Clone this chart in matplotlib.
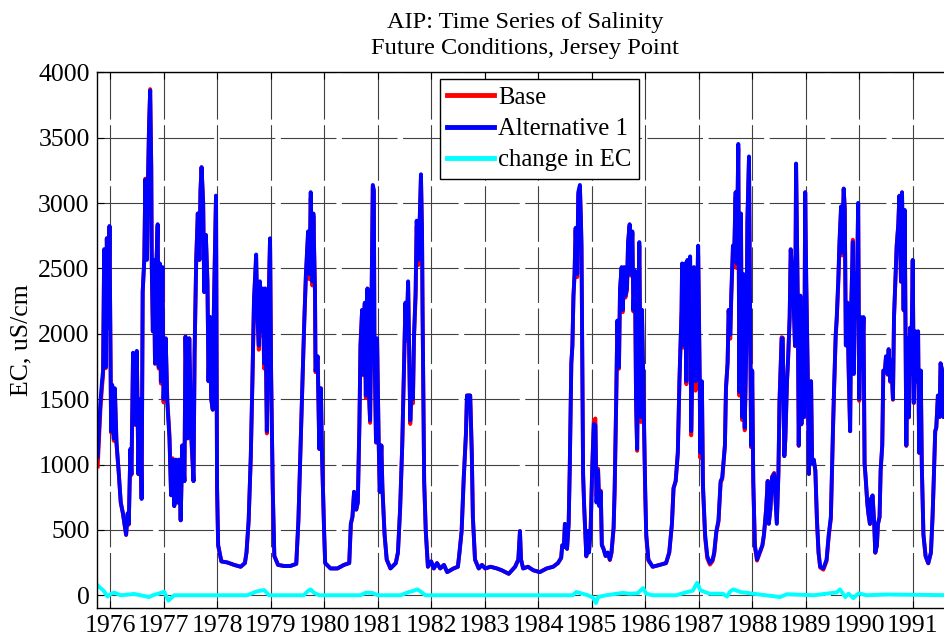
import numpy as np
import matplotlib
matplotlib.use('Agg')
import matplotlib.pyplot as plt

# Jersey Point EC (decimal water-year dates)
alt_year = [
    1975.77, 1975.82, 1975.85, 1975.87, 1975.89, 1975.92, 1975.94, 1975.97, 1975.99, 1976.02,
    1976.04, 1976.07, 1976.09, 1976.12, 1976.16, 1976.20, 1976.24, 1976.27, 1976.30, 1976.33,
    1976.35, 1976.38, 1976.40, 1976.43, 1976.47, 1976.50, 1976.53, 1976.56, 1976.59, 1976.61,
    1976.64, 1976.66, 1976.69, 1976.71, 1976.73, 1976.75, 1976.77, 1976.78, 1976.80, 1976.82,
    1976.84, 1976.86, 1976.89, 1976.91, 1976.93, 1976.95, 1976.98, 1977.00, 1977.04, 1977.07,
    1977.11, 1977.14, 1977.17, 1977.20, 1977.23, 1977.26, 1977.29, 1977.32, 1977.35, 1977.39,
    1977.41, 1977.45, 1977.48, 1977.52, 1977.56, 1977.58, 1977.61, 1977.64, 1977.67, 1977.69,
    1977.71, 1977.74, 1977.76, 1977.79, 1977.82, 1977.84, 1977.87, 1977.89, 1977.92, 1977.94,
    1977.98, 1978.00, 1978.02, 1978.08, 1978.19, 1978.32, 1978.44, 1978.52, 1978.55, 1978.59,
    1978.63, 1978.66, 1978.69, 1978.73, 1978.75, 1978.78, 1978.80, 1978.83, 1978.85, 1978.88,
    1978.90, 1978.93, 1978.96, 1978.99, 1979.01, 1979.04, 1979.07, 1979.14, 1979.25, 1979.37,
    1979.48, 1979.52, 1979.56, 1979.60,
    1979.63, 1979.66, 1979.70, 1979.73, 1979.75, 1979.78, 1979.80, 1979.83, 1979.84, 1979.88,
    1979.91, 1979.94, 1979.96, 1980.00, 1980.02, 1980.12, 1980.25, 1980.37, 1980.47, 1980.50,
    1980.53, 1980.56, 1980.60, 1980.63, 1980.66, 1980.68, 1980.71, 1980.73, 1980.76, 1980.78,
    1980.81, 1980.83, 1980.86, 1980.88, 1980.91, 1980.93, 1980.94, 1980.97, 1980.99, 1981.02,
    1981.04, 1981.07, 1981.09, 1981.13, 1981.17, 1981.24, 1981.34, 1981.38, 1981.42, 1981.46,
    1981.49, 1981.52, 1981.54, 1981.57, 1981.59, 1981.61, 1981.64, 1981.66, 1981.68, 1981.71,
    1981.73, 1981.76, 1981.78, 1981.81, 1981.83, 1981.84, 1981.87, 1981.90, 1981.94, 1982.00,
    1982.05, 1982.11, 1982.17, 1982.24, 1982.30, 1982.42, 1982.50, 1982.53, 1982.57, 1982.61,
    1982.65, 1982.67, 1982.73, 1982.76, 1982.78, 1982.82, 1982.89, 1982.95, 1983.01, 1983.11,
    1983.23, 1983.32, 1983.45,
    1983.57, 1983.63, 1983.66, 1983.68, 1983.72, 1983.81, 1983.91, 1984.03, 1984.16, 1984.28,
    1984.37, 1984.43, 1984.45, 1984.48, 1984.50, 1984.54, 1984.57, 1984.59, 1984.62, 1984.64,
    1984.66, 1984.68, 1984.70, 1984.73, 1984.75, 1984.78, 1984.80, 1984.81, 1984.84, 1984.86,
    1984.90, 1984.93, 1984.95, 1984.98, 1985.01, 1985.04, 1985.07, 1985.09, 1985.12, 1985.14,
    1985.17, 1985.19, 1985.22, 1985.26, 1985.30, 1985.34, 1985.37, 1985.41, 1985.43, 1985.46,
    1985.48, 1985.51, 1985.53, 1985.56, 1985.58, 1985.61, 1985.63, 1985.66, 1985.68, 1985.71,
    1985.73, 1985.76, 1985.78, 1985.81, 1985.83, 1985.85, 1985.87, 1985.89, 1985.92, 1985.94,
    1985.97, 1986.00, 1986.02, 1986.06, 1986.14, 1986.27, 1986.39, 1986.45, 1986.50, 1986.53,
    1986.57, 1986.61, 1986.64, 1986.68, 1986.69, 1986.72, 1986.74, 1986.77, 1986.79, 1986.82,
    1986.84, 1986.86, 1986.89, 1986.91, 1986.94, 1986.96, 1986.99, 1987.02, 1987.03, 1987.06,
    1987.08, 1987.12, 1987.16, 1987.21, 1987.26, 1987.29, 1987.33, 1987.37, 1987.41, 1987.44,
    1987.49, 1987.51, 1987.54, 1987.56, 1987.59, 1987.61, 1987.64, 1987.66, 1987.69, 1987.71,
    1987.74, 1987.76, 1987.79, 1987.81, 1987.84, 1987.86, 1987.89, 1987.91, 1987.94, 1987.96,
    1987.98, 1988.00, 1988.02, 1988.05, 1988.09, 1988.14, 1988.19, 1988.22, 1988.26, 1988.29,
    1988.31, 1988.34, 1988.37, 1988.41, 1988.46, 1988.49, 1988.51, 1988.55, 1988.57, 1988.60,
    1988.62, 1988.65, 1988.67, 1988.70, 1988.72, 1988.75, 1988.77, 1988.80, 1988.82, 1988.85,
    1988.87, 1988.90, 1988.92, 1988.94, 1988.97, 1988.99, 1989.01, 1989.04, 1989.06, 1989.10,
    1989.12, 1989.15, 1989.18, 1989.21, 1989.24, 1989.27, 1989.33, 1989.39, 1989.43, 1989.47,
    1989.51, 1989.53, 1989.56, 1989.58, 1989.61, 1989.63, 1989.66, 1989.68, 1989.71, 1989.73,
    1989.75, 1989.78, 1989.80, 1989.83, 1989.85, 1989.88, 1989.90, 1989.93, 1989.95, 1989.98,
    1990.00, 1990.03, 1990.05, 1990.08, 1990.10, 1990.12, 1990.15, 1990.17, 1990.20, 1990.22,
    1990.25, 1990.28, 1990.30, 1990.33, 1990.35, 1990.38, 1990.40, 1990.43, 1990.45, 1990.48,
    1990.50, 1990.53, 1990.55, 1990.58, 1990.60, 1990.63, 1990.65, 1990.68, 1990.70, 1990.73,
    1990.75, 1990.78, 1990.80, 1990.83, 1990.85, 1990.88, 1990.90, 1990.93, 1990.95, 1990.97,
    1991.00, 1991.02, 1991.05, 1991.07, 1991.10, 1991.12, 1991.15, 1991.17, 1991.20, 1991.24,
    1991.29, 1991.34, 1991.37, 1991.39, 1991.42, 1991.44, 1991.47, 1991.50, 1991.52, 1991.55,
    1991.57, 1991.59,
]
alt_ec = [
    1060, 1473, 1637, 1719, 2647, 1746, 2729, 2046, 2824, 1255,
    1610, 1200, 1583, 1173, 955, 709, 628, 546, 464, 628,
    546, 1119, 928, 1855, 1310, 1869, 928, 1500, 737, 2319,
    2565, 3179, 2565, 3192, 3602, 3861, 3274, 2510, 2019, 2565,
    1774, 2456, 2838, 1746, 2538, 1637, 2510, 1500, 1965, 1473,
    1200, 764, 1037, 682, 1037, 709, 1037, 573, 1146, 873,
    1978, 1200, 1965, 1200, 873, 1855, 2565, 2920, 2565, 3097,
    3274, 3001, 2319, 2756, 2401, 1637, 2128, 1500, 1419, 2183,
    3056, 819, 382, 259, 251, 232, 218, 246, 327, 573,
    1064, 1637, 2265, 2606, 2183, 1910, 2401, 2019, 2347, 1774,
    2347, 1255, 2183, 2729, 1692, 819, 300, 232, 224, 224,
    240, 573, 1146, 1692,
    2100, 2456, 2783, 2456, 3083, 2401, 2920, 2319, 1719, 1828,
    1119, 1583, 1091, 491, 246, 205, 205, 232, 246, 546,
    600, 791, 655, 709, 1310, 1910, 2183, 1692, 2238, 1528,
    2347, 1637, 1337, 2019, 3138, 3100, 1965, 1173, 1965, 1173,
    791, 1146, 819, 464, 273, 205, 246, 327, 655, 1146,
    1692, 2238, 1965, 2401, 1855, 1337, 1637, 1500, 1992, 2319,
    2865, 2565, 2783, 3220, 2783, 2183, 873, 491, 218, 259,
    205, 246, 205, 232, 177, 205, 218, 327, 491, 900,
    1228, 1528, 1528, 1091, 600, 273, 205, 232, 205, 218,
    205, 191, 164,
    218, 273, 491, 273, 205, 218, 191, 177, 205, 218,
    246, 286, 382, 368, 546, 355, 546, 955, 1774, 1910,
    2292, 2456, 2810, 2456, 3083, 3138, 2865, 2674, 928, 682,
    300, 491, 327, 491, 955, 1310, 1300, 709, 955, 682,
    791, 382, 355, 300, 327, 273, 327, 518, 819, 1528,
    2101, 1746, 2347, 2510, 2183, 2510, 2292, 2347, 2701, 2838,
    2456, 2783, 2183, 2483, 1473, 1119, 1910, 2701, 1364, 2183,
    1528, 819, 464, 273, 218, 232, 246, 327, 546, 819,
    873, 1091, 1637, 2183, 2538, 1910, 2538, 1637, 2565, 2183,
    2592, 1255, 1910, 2510, 1637, 2183, 2674, 1637, 1091, 1637,
    846, 464, 300, 246, 273, 327, 491, 573, 873, 900,
    1146, 1583, 1774, 2183, 1992, 2319, 2674, 2565, 3083, 2538,
    3452, 1555, 2920, 1364, 2456, 1282, 1910, 2865, 3356, 2183,
    1146, 1719, 873, 382, 273, 327, 382, 464, 655, 873,
    546, 655, 900, 928, 546, 928, 1473, 1965, 1965, 1064,
    1200, 1637, 1801, 2128, 2647, 2456, 2292, 1910, 3302, 2292,
    1146, 2292, 1310, 2183, 1364, 3083, 2401, 1637, 928, 1637,
    1010, 1037, 955, 573, 327, 218, 205, 273, 464, 600,
    1282, 1583, 1992, 2128, 2429, 2701, 2974, 2620, 3111, 2947,
    1910, 2238, 1774, 1255, 2183, 2701, 1692, 2456, 2128, 3001,
    1500, 2128, 1746, 2128, 1010, 900, 709, 628, 546, 737,
    764, 546, 327, 382, 546, 600, 955, 1146, 1719, 1719,
    1828, 1692, 1883, 1637, 1801, 1500, 2128, 2456, 2674, 2838,
    3056, 2401, 3083, 2183, 2947, 1146, 1965, 1364, 2046, 1692,
    2565, 1473, 2019, 1637, 2019, 1091, 1719, 982, 464, 300,
    246, 327, 600, 846, 1255, 1282, 1528, 1364, 1774, 1719,
    1364, 1364,
]

# change in EC (Alternative 1 minus Base)
chg_year = [
    1975.77, 1975.89, 1975.95, 1976.02, 1976.08, 1976.20, 1976.45, 1976.73, 1976.80, 1976.92,
    1977.01, 1977.09, 1977.20, 1978.56, 1978.75, 1978.88, 1978.97, 1979.62, 1979.69, 1979.75,
    1979.81, 1979.91, 1980.68, 1980.78, 1980.90, 1981.01, 1981.43, 1981.55, 1981.68, 1981.74,
    1981.80, 1981.89, 1984.65, 1984.71, 1984.81, 1984.93, 1985.03, 1985.08, 1985.12, 1985.27,
    1985.58, 1985.71, 1985.86, 1985.96, 1986.02, 1986.14, 1986.58, 1986.76, 1986.89, 1986.97,
    1987.03, 1987.11, 1987.21, 1987.45, 1987.53, 1987.59, 1987.65, 1987.78, 1988.02, 1988.52,
    1988.65, 1989.15, 1989.58, 1989.64, 1989.74, 1989.80, 1989.89, 1989.99, 1990.14, 1990.51,
    1991.75,
]
chg_ec = [
    75, 30, -10, 12, 20, 0, 10, -14, 0, 14,
    27, -41, 0, 0, 30, 40, 0, 0, 30, 45,
    19, 0, 0, 20, 18, 0, 0, 20, 35, 45,
    30, 0, 0, 25, 14, 0, -20, -60, -14, 0,
    18, 12, 15, 55, 12, 0, 0, 22, 35, 95,
    40, 25, 12, 12, -10, 30, 45, 25, 12, -14,
    8, 0, 22, 45, -14, 12, -22, 15, 0, 6,
    0,
]

yticks = list(range(0, 4001, 500))
xticks = list(range(1976, 1992))

plt.rcParams['font.family'] = ['Liberation Serif', 'DejaVu Serif']
plt.rcParams['font.size'] = 18.5
plt.rcParams['lines.scale_dashes'] = False

alt = np.array(alt_ec, dtype=float)
# base = alternative minus change
base = alt - np.interp(alt_year, chg_year, chg_ec)

fig = plt.figure(figsize=(9.44, 6.39), dpi=100)
ax = fig.add_axes([0.1024, 0.048, 0.9070, 0.8389])

ax.plot(alt_year, base, color=(1, 0, 0), lw=2.8, label='Base')
ax.plot(alt_year, alt, color=(0, 0, 1), lw=2.8, label='Alternative 1')
ax.plot(chg_year, chg_ec, color=(0, 1, 1), lw=2.8, label='change in EC')

ax.set_xlim(1975.75, 1991.75)
ax.set_ylim(-100, 4000)
ax.set_xticks(xticks)
ax.set_yticks(yticks)
ax.grid(True, color='#404040', linestyle=(0, (40, 4)), linewidth=0.8)
ax.tick_params(direction='in', length=5, top=True, right=True, pad=5)
for s in ax.spines.values():
    s.set_linewidth(1.0)

ax.set_ylabel('EC, uS/cm', labelpad=4)
ax.set_title('AIP: Time Series of Salinity\nFuture Conditions, Jersey Point',
             fontsize=17.6, pad=13, linespacing=1.35)

leg = ax.legend(loc='upper left', bbox_to_anchor=(0.401, 0.987), fancybox=False,
                edgecolor='k', framealpha=1, fontsize=17.8, handlelength=1.9,
                handletextpad=0.15, borderaxespad=0, labelspacing=0.36, borderpad=0.3)
leg.get_frame().set_linewidth(1.0)
for h in leg.get_lines():
    h.set_linewidth(3.5)

fig.savefig('out.png', dpi=100)
